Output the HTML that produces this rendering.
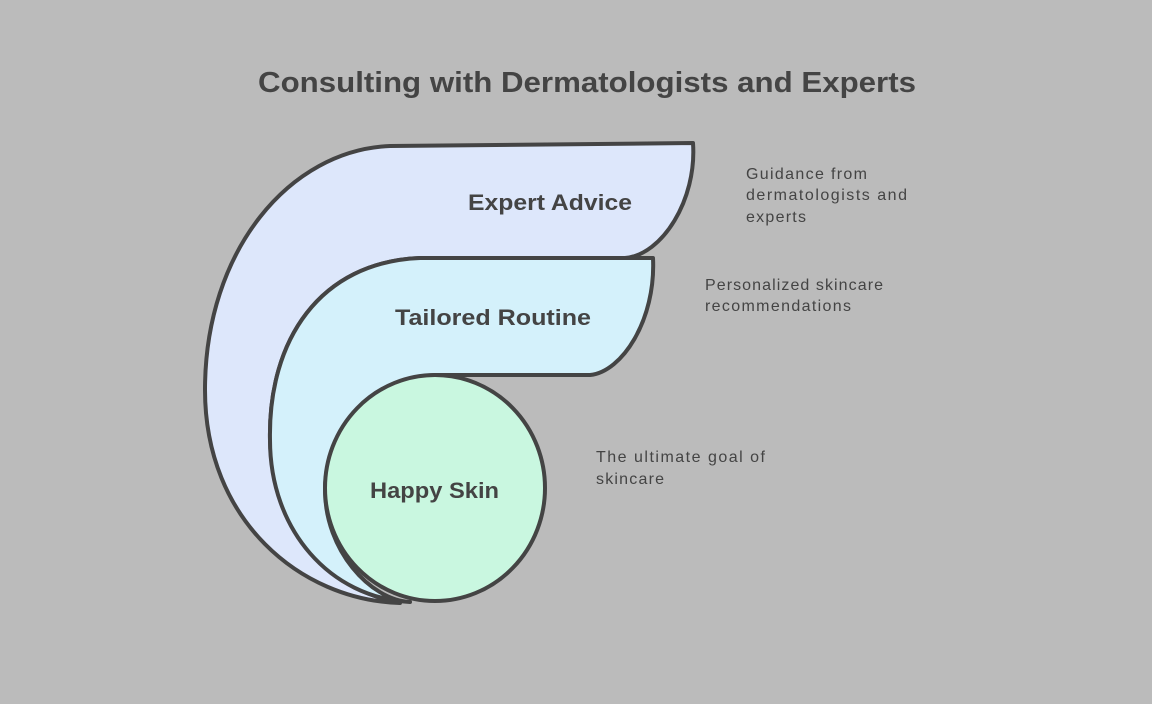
<!DOCTYPE html>
<html><head><meta charset="utf-8"><style>
body{margin:0;background:#bbbbbb;}
svg{display:block}
text{font-family:"Liberation Sans",sans-serif;fill:#444}
</style></head><body>
<svg width="1152" height="704" viewBox="0 0 1152 704">
<rect width="1152" height="704" fill="#bbbbbb"/>
<text x="258" y="92" font-size="29" font-weight="bold" textLength="658" lengthAdjust="spacingAndGlyphs">Consulting with Dermatologists and Experts</text>
<path d="M390,146 L693,143 C697,200 662,255 625,258 L420,258 C320,262 268,340 270,440 C272,530 330,590 400,603 C300,600 205,520 205,390 C205,250 290,150 390,146 Z" fill="#dde7fb" stroke="#444" stroke-width="4" stroke-linejoin="round"/>
<path d="M420,258 L653,258 C656,320 622,372 590,375 L435,375 C375,378 325,430 325,490 C325,550 370,600 410,602 C330,598 270,530 270,440 C268,340 320,262 420,258 Z" fill="#d4f1fb" stroke="#444" stroke-width="4" stroke-linejoin="round"/>
<ellipse cx="435" cy="488" rx="110" ry="113" fill="#c9f7e0" stroke="#444" stroke-width="4"/>
<text x="468" y="210" font-size="22" font-weight="bold" textLength="164" lengthAdjust="spacingAndGlyphs">Expert Advice</text>
<text x="395" y="325" font-size="22" font-weight="bold" textLength="196" lengthAdjust="spacingAndGlyphs">Tailored Routine</text>
<text x="370" y="498" font-size="22" font-weight="bold" textLength="129" lengthAdjust="spacingAndGlyphs">Happy Skin</text>
<g font-size="16" fill="#555">
<text x="746" y="179" textLength="121">Guidance from</text>
<text x="746" y="200" textLength="161">dermatologists and</text>
<text x="746" y="222" textLength="60">experts</text>
<text x="705" y="290" textLength="178">Personalized skincare</text>
<text x="705" y="311" textLength="146">recommendations</text>
<text x="596" y="462" textLength="169">The ultimate goal of</text>
<text x="596" y="484" textLength="68">skincare</text>
</g>
</svg>
</body></html>
